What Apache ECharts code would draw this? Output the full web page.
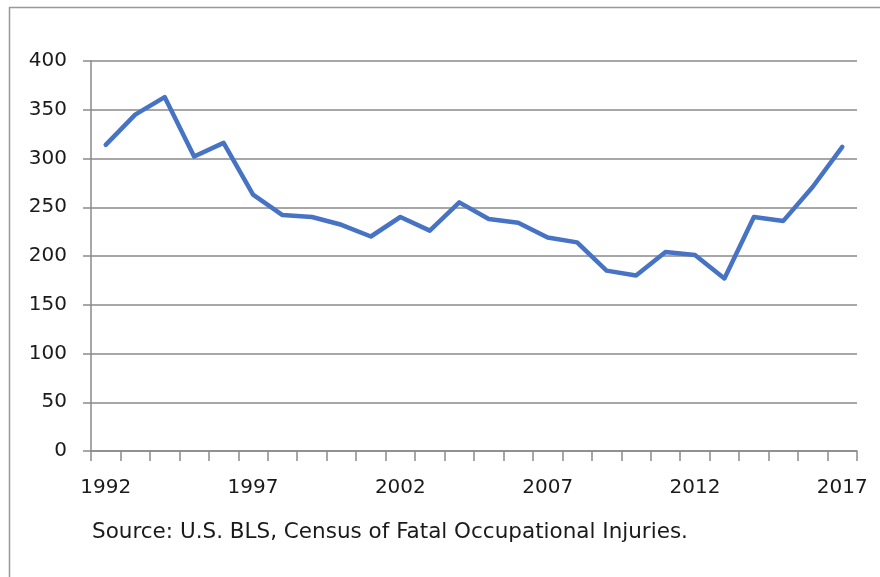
<!DOCTYPE html>
<html>
<head>
<meta charset="utf-8">
<script src="https://cdn.jsdelivr.net/npm/echarts@6/dist/echarts.min.js"></script>
<style>
  html, body { margin: 0; padding: 0; background: #fff; }
  #chart { width: 880px; height: 577px; }
</style>
</head>
<body>
<div id="chart"></div>
<script>
// 年份
const years = ['1992', '1993', '1994', '1995', '1996', '1997', '1998', '1999', '2000',
  '2001', '2002', '2003', '2004', '2005', '2006', '2007', '2008', '2009', '2010',
  '2011', '2012', '2013', '2014', '2015', '2016', '2017']
// 数值
const fatalities = [314, 345, 363, 302, 316, 263, 242, 240, 232, 220, 240, 226, 255,
  238, 234, 219, 214, 185, 180, 204, 201, 177, 240, 236, 271, 312]
const sourceNote = 'Source: U.S. BLS, Census of Fatal Occupational Injuries.'

const chart = echarts.init(document.getElementById('chart'))
const gray = '#8a8a8a'
const font = 'DejaVu Sans'

const option = {
  animation: false,
  backgroundColor: '#fff',
  grid: { left: 91, right: 23, top: 61, bottom: 126 },
  xAxis: {
    type: 'category',
    data: years,
    boundaryGap: true,
    axisLine: { lineStyle: { color: gray, width: 1.5 } },
    axisTick: { show: true, interval: 0, length: 10, lineStyle: { color: gray, width: 1.5 } },
    axisLabel: { interval: 4, margin: 27, fontFamily: font, fontSize: 20, color: '#1a1a1a' },
    splitLine: { show: false }
  },
  yAxis: {
    type: 'value',
    min: 0,
    max: 400,
    interval: 50,
    axisLine: { show: true, lineStyle: { color: gray, width: 1.5 } },
    axisTick: { show: true, length: 8, lineStyle: { color: gray, width: 1.5 } },
    axisLabel: { margin: 24, fontFamily: font, fontSize: 20, color: '#1a1a1a' },
    splitLine: { show: true, lineStyle: { color: gray, width: 1.5 } }
  },
  series: [
    {
      type: 'line',
      data: fatalities,
      symbol: 'none',
      lineStyle: { color: '#4673c3', width: 4.5, join: 'round', cap: 'round' }
    }
  ],
  graphic: [
    {
      type: 'rect',
      shape: { x: 9.5, y: 7.5, width: 900, height: 600 },
      style: { fill: null, stroke: '#999', lineWidth: 1.5 },
      silent: true
    },
    {
      type: 'text',
      left: 92,
      top: 521,
      style: { text: sourceNote, fontFamily: font, fontSize: 21.5, fill: '#1a1a1a' }
    }
  ]
}
chart.setOption(option)
</script>
</body>
</html>
